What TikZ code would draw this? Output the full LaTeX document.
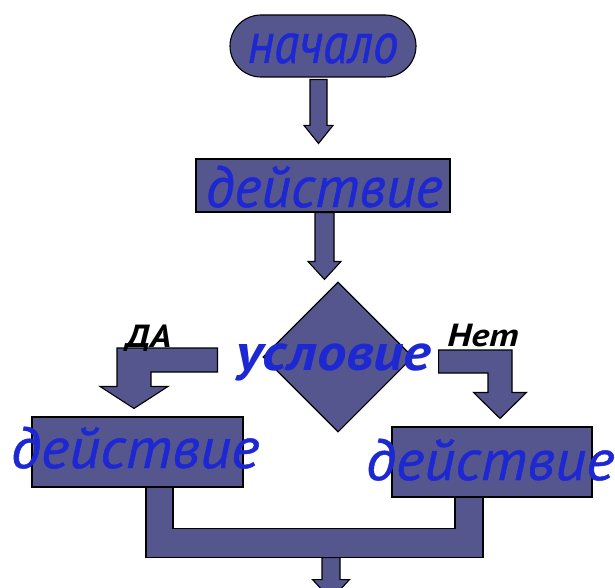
\documentclass[tikz,border=0pt]{standalone}
\usepackage{fontspec}
\setmainfont{PT Sans}
\newfontfamily\heavyit[FakeBold=0.8]{PT Sans Italic}
\usetikzlibrary{calc,shapes.geometric}
\definecolor{shapefill}{RGB}{86,86,142}
\definecolor{txtblue}{RGB}{30,40,210}
% vertical block arrow: #1 top centre, #2 tip, #3 shaft half width, #4 head half width, #5 head length
\newcommand\blkdown[5]{%
  \path[blk] let \p1=(#1), \p2=(#2) in
    (\x2-#3pt,\y1) -- (\x2+#3pt,\y1) -- (\x2+#3pt,\y2+#5pt) -- (\x2+#4pt,\y2+#5pt)
    -- (\x2,\y2) -- (\x2-#4pt,\y2+#5pt) -- (\x2-#3pt,\y2+#5pt) -- cycle;}
% bent block arrow: #1 bar start, #2 tip, #3 side (1 right, -1 left), #4 bar half thickness,
% #5 stem half width, #6 head half width, #7 head length
\newcommand\blkbent[7]{%
  \path[blk] let \p1=(#1), \p2=(#2) in
    (\x1,\y1+#4pt) -- (\x2+#3*#5pt,\y1+#4pt) -- (\x2+#3*#5pt,\y2+#7pt) -- (\x2+#3*#6pt,\y2+#7pt)
    -- (\x2,\y2) -- (\x2-#3*#6pt,\y2+#7pt) -- (\x2-#3*#5pt,\y2+#7pt) -- (\x2-#3*#5pt,\y1-#4pt)
    -- (\x1,\y1-#4pt) -- cycle;}
\begin{document}
\begin{tikzpicture}[x=1pt,y=-1pt,
  blk/.style={draw=black, line width=1.1pt, fill=shapefill, line join=miter},
  boxnode/.style={blk, rectangle, inner sep=0pt},
  pill/.style={blk, rectangle, rounded corners=31pt, inner sep=0pt},
  decnode/.style={blk, diamond, aspect=1, inner sep=0pt, minimum width=150pt, minimum height=150pt},
  bluetxt/.style={text=txtblue, inner sep=0pt, anchor=base},
  bigit/.style={bluetxt, font=\heavyit\fontsize{58}{58}\selectfont},
  condtxt/.style={bluetxt, font=\bfseries\itshape\fontsize{52}{52}\selectfont},
  yesno/.style={text=black, inner sep=0pt, anchor=base, font=\bfseries\itshape\fontsize{32}{32}\selectfont}
]
\clip (0,0) rectangle (615,588);
\useasboundingbox (0,0) rectangle (615,588);
\fill[white] (0,0) rectangle (615,588);

% nodes
\node[pill, minimum width=186pt, minimum height=62pt] (start) at (323,46) {};
\node[boxnode, minimum width=254pt, minimum height=53pt] (act1) at (323,185.5) {};
\node[decnode] (dec) at (338,357) {};
\node[boxnode, minimum width=211pt, minimum height=70pt] (act2) at (137.5,452) {};
\node[boxnode, minimum width=200pt, minimum height=70pt] (act3) at (492,462) {};

% connectors
\coordinate (a1s) at ($(start.south)+(-4.5,2)$);
\coordinate (a1e) at ($(act1.north)+(-4.5,-15)$);
\blkdown{a1s}{a1e}{8.5}{14.5}{18}
\coordinate (a2s) at ($(act1.south)+(1.5,0)$);
\coordinate (a2e) at ($(dec.north)+(-13.5,-2)$);
\blkdown{a2s}{a2e}{9.5}{16.5}{18}
\coordinate (yS) at ($(dec.west)+(-45,3)$);
\coordinate (yT) at ($(act2.north)+(-3.5,-8)$);
\blkbent{yS}{yT}{-1}{12}{17}{34}{22}
\coordinate (nS) at ($(dec.east)+(25,4.5)$);
\coordinate (nT) at ($(act3.north)+(8,-8)$);
\blkbent{nS}{nT}{1}{11.5}{12}{26.5}{26}
\path[blk] ($(act2.south)+(8.5,0)$) -- ($(act2.south)+(8.5,70)$) -- ($(act3.south)+(-9,60)$)
  -- ($(act3.south)+(-9,0)$) -- ($(act3.south)+(-37,0)$) -- ($(act3.south)+(-37,31)$)
  -- ($(act2.south)+(35.5,41)$) -- ($(act2.south)+(35.5,0)$) -- cycle;
\coordinate (mout) at ($(act2.south)+(193.5,70)$);
\coordinate (mend) at ($(mout)+(0,42)$);
\blkdown{mout}{mend}{9}{18.5}{20}

% texts
\node[bigit] (tstart) at ($(start.center)+(0,17)$) {\scalebox{0.88}[1]{начало}};
\node[bigit] (tact1) at ($(act1.center)+(1,21.5)$) {действие};
\node[condtxt] (tdec) at ($(dec.center)+(-4,13)$) {\scalebox{1.13}[1]{условие}};
\node[bigit] (tact2) at ($(act2.center)+(-2.5,16)$) {\scalebox{1.05}[1]{действие}};
\node[bigit] (tact3) at ($(act3.center)+(-2,18)$) {\scalebox{1.05}[1]{действие}};
\node[yesno] (tyes) at (148.5,347) {\scalebox{1.15}[1]{ДА}};
\node[yesno] (tno) at (483,346) {\scalebox{1.2}[1]{Нет}};
\end{tikzpicture}
\end{document}
